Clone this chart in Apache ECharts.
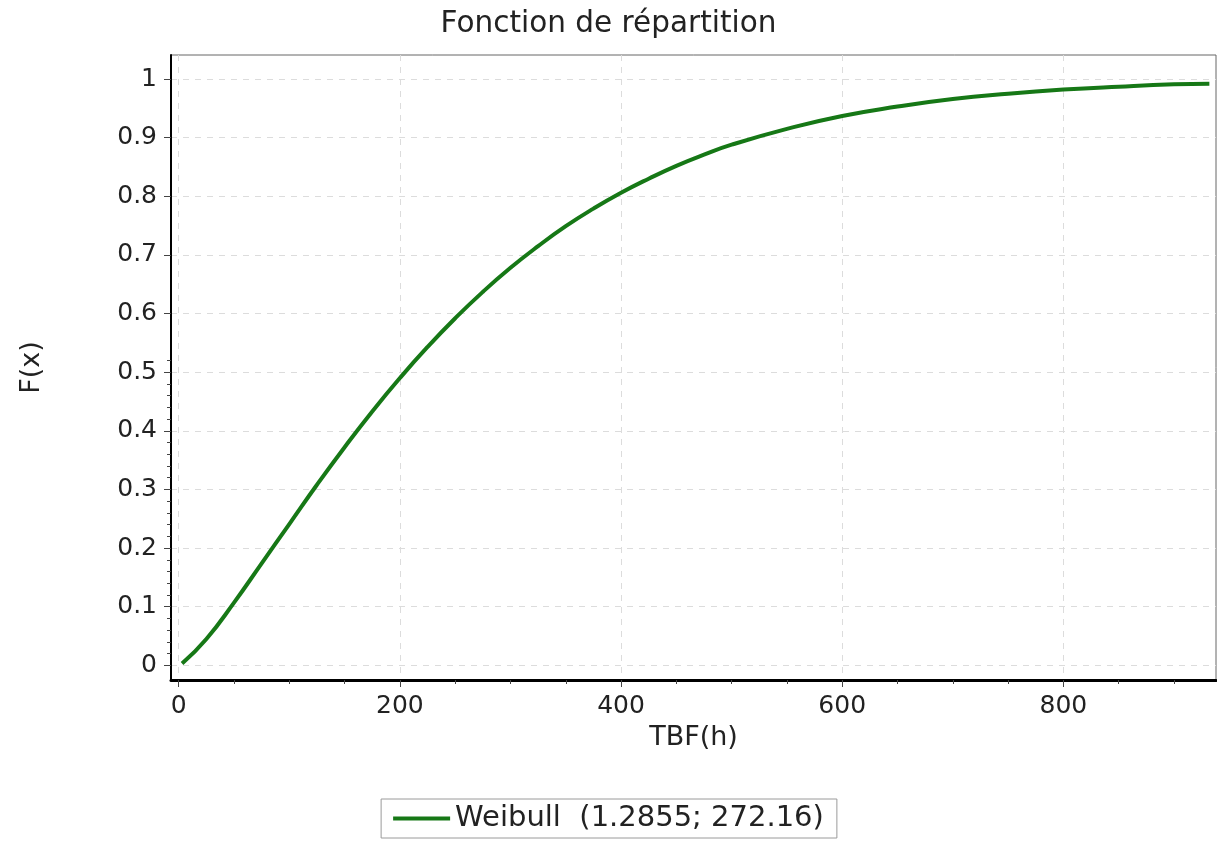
<!DOCTYPE html>
<html>
<head>
<meta charset="utf-8">
<script src="https://cdn.jsdelivr.net/npm/echarts@6/dist/echarts.min.js"></script>
<style>
  html, body { margin: 0; padding: 0; background: #fff; }
  #chart { width: 1217px; height: 842px; }
</style>
</head>
<body>
<div id="chart"></div>
<script>
// ---- data ----
const tbf = [3, 25, 50, 75, 100, 125, 150, 175, 200, 225, 250, 275, 300, 325, 350, 375, 400, 425, 450, 475, 500, 550, 600, 650, 700, 750, 800, 850, 900, 932];
const fx  = [0.003, 0.045, 0.107, 0.174, 0.241, 0.308, 0.372, 0.433, 0.490, 0.543, 0.592, 0.637, 0.678, 0.715, 0.749, 0.779, 0.806, 0.830, 0.852, 0.871, 0.888, 0.915, 0.937, 0.953, 0.966, 0.975, 0.982, 0.987, 0.991, 0.992];
const xTickLabels = [0, 200, 400, 600, 800];
const yTickLabels = [0, 0.1, 0.2, 0.3, 0.4, 0.5, 0.6, 0.7, 0.8, 0.9, 1];
const seriesName = 'Weibull  (1.2855; 272.16)';
const titleText = 'Fonction de répartition';
const xName = 'TBF(h)';
const yName = 'F(x)';

const xMinor = [];
for (let v = 0; v <= 900; v += 50) xMinor.push(v);
const yMinor = [];
for (let i = 0; i <= 52; i += 2) yMinor.push(+(i / 100).toFixed(2));

const X_MIN = -7, X_MAX = 938, Y_MIN = -0.025, Y_MAX = 1.041;
const FONT = 'DejaVu Sans';
const TXT = '#222';
const GREEN = '#167816';

const chart = echarts.init(document.getElementById('chart'), null, { renderer: 'canvas' });
chart.setOption({
  animation: false,
  backgroundColor: '#fff',
  title: {
    text: titleText, left: 'center', top: 4,
    textStyle: { fontFamily: FONT, fontSize: 29.5, fontWeight: 'normal', color: TXT }
  },
  legend: {
    data: [{ name: seriesName, icon: 'rect' }], left: 'center', top: 799,
    padding: [5, 13, 5, 12],
    borderColor: '#9a9a9a', borderWidth: 1,
    itemWidth: 57, itemHeight: 4, itemGap: 8,
    textStyle: { fontFamily: FONT, fontSize: 29, color: TXT }
  },
  grid: {
    left: 171, right: 1, top: 55, bottom: 162,
    show: true, borderColor: '#666', borderWidth: 1, backgroundColor: 'transparent'
  },
  xAxis: [{
    type: 'value', min: X_MIN, max: X_MAX,
    name: xName, nameLocation: 'middle', nameGap: 44,
    nameTextStyle: { fontFamily: FONT, fontSize: 27, color: TXT },
    axisLine: { show: true, onZero: false, lineStyle: { color: '#000', width: 3 } },
    axisTick: { show: true, customValues: xTickLabels, length: 7, lineStyle: { color: '#444', width: 1 } },
    axisLabel: { customValues: xTickLabels, margin: 14, fontFamily: FONT, fontSize: 25, color: TXT },
    splitLine: { show: true, lineStyle: { color: '#dcdcdc', width: 1, type: [6, 6] } }
  }, {
    type: 'value', min: X_MIN, max: X_MAX, gridIndex: 0, position: 'bottom',
    axisLine: { show: false, onZero: false },
    axisTick: { show: true, customValues: xMinor, length: 4, lineStyle: { color: '#444', width: 1 } },
    axisLabel: { show: false },
    splitLine: { show: false }
  }],
  yAxis: [{
    type: 'value', min: Y_MIN, max: Y_MAX,
    name: yName, nameLocation: 'middle', nameGap: 126,
    nameTextStyle: { fontFamily: FONT, fontSize: 27, color: TXT },
    axisLine: { show: true, onZero: false, lineStyle: { color: '#000', width: 2 } },
    axisTick: { show: true, customValues: yTickLabels, length: 7, lineStyle: { color: '#444', width: 1 } },
    axisLabel: {
      customValues: yTickLabels, margin: 14, fontFamily: FONT, fontSize: 25, color: TXT,
      formatter: v => String(+v.toFixed(1))
    },
    splitLine: { show: true, lineStyle: { color: '#dcdcdc', width: 1, type: [6, 6] } }
  }, {
    type: 'value', min: Y_MIN, max: Y_MAX, gridIndex: 0, position: 'left',
    axisLine: { show: false, onZero: false },
    axisTick: { show: true, customValues: yMinor, length: 4, lineStyle: { color: '#444', width: 1 } },
    axisLabel: { show: false },
    splitLine: { show: false }
  }],
  series: [{
    name: seriesName, type: 'line',
    xAxisIndex: 0, yAxisIndex: 0,
    data: tbf.map((t, i) => [t, fx[i]]),
    smooth: 0.5,
    symbol: 'none',
    lineStyle: { color: GREEN, width: 4 },
    itemStyle: { color: GREEN }
  }]
});
</script>
</body>
</html>
